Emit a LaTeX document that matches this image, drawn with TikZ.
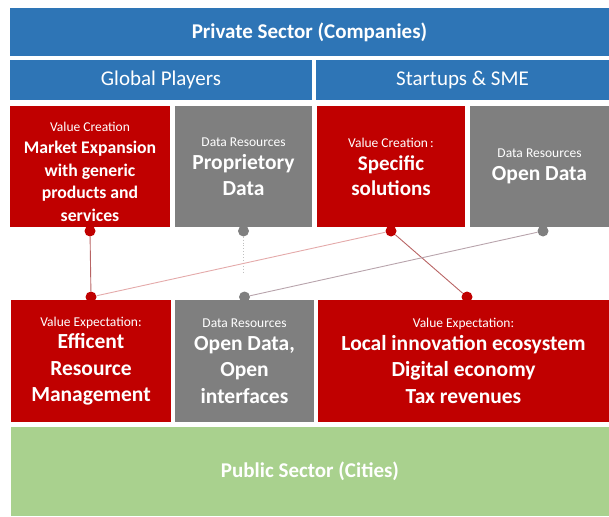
\documentclass[tikz,border=0pt]{standalone}
\usepackage{fontspec}
\setmainfont{Carlito}
\definecolor{secblue}{HTML}{2E75B6}
\definecolor{valred}{HTML}{C00000}
\definecolor{resgray}{HTML}{7F7F7F}
\definecolor{pubgreen}{HTML}{A9D18E}
\definecolor{linkred}{HTML}{B86464}
\definecolor{linkpink}{HTML}{E4AAAA}
\definecolor{linkgray}{HTML}{B8A4AC}
\newcommand\smalltxt[1]{{\fontsize{13.5}{16}\selectfont\mdseries #1}}

\begin{document}
\begin{tikzpicture}[x=1pt,y=-1pt]

\tikzset{box/.style = {shape=rectangle,inner sep=0pt,outer sep=0pt,text=white,align=center,font=\fontsize{21}{26}\selectfont}}
\tikzset{bar/.style = {box,fill=secblue}}
\tikzset{valbox/.style = {box,fill=valred,minimum height=121pt}}
\tikzset{resbox/.style = {box,fill=resgray,minimum height=121pt}}
\tikzset{rdot/.style = {shape=circle,fill=valred,inner sep=0pt,minimum size=11pt}}
\tikzset{gdot/.style = {shape=circle,fill=resgray,inner sep=0pt,minimum size=11pt}}
\tikzset{link/.style = {line width=0.9pt}}
\useasboundingbox (0,0) rectangle (609,516);
%sectors
\node[bar,minimum width=599pt,minimum height=48pt] (priv) at (309.5,32) {\bfseries Private Sector (Companies)};
\node[bar,minimum width=302pt,minimum height=40pt] (glob) at (161,80) {Global Players};
\node[bar,minimum width=293pt,minimum height=40pt] (sme) at (462.5,80) {Startups \& SME};
\node[box,fill=pubgreen,minimum width=598pt,minimum height=89pt] (pub) at (310,471.5) {\bfseries Public Sector (Cities)};
%private boxes
\node[valbox,minimum width=160pt,font=\fontsize{17.7}{22.5}\selectfont\bfseries] (vc1) at (90,166.5)
  {\smalltxt{\rule{0pt}{20pt}Value Creation}\\Market Expansion\\with generic\\products and\\services};
\node[resbox,minimum width=137pt,font=\fontsize{21.5}{26}\selectfont\bfseries] (dr1) at (243.5,166.5)
  {\smalltxt{Data Resources}\\[-3pt]Proprietory\\Data};
\node[valbox,minimum width=148pt,font=\fontsize{21}{25}\selectfont\bfseries] (vc2) at (391,166.5)
  {\smalltxt{Value Creation\,:}\\[-2pt]Specific\\solutions};
\node[resbox,minimum width=139pt,font=\fontsize{21.5}{26}\selectfont\bfseries] (dr2) at (539.5,166.5)
  {\smalltxt{Data Resources}\\[-3pt]Open Data};
%public boxes
\node[valbox,minimum width=160pt,minimum height=122pt,font=\fontsize{21.5}{26.5}\selectfont\bfseries] (ve1) at (91,361)
  {\smalltxt{Value Expectation:}\\[-4pt]Efficent\\Resource\\Management};
\node[resbox,minimum width=139pt,minimum height=122pt,font=\fontsize{21.5}{26.5}\selectfont\bfseries] (dr3) at (244.5,361)
  {\smalltxt{Data Resources}\\[-4pt]Open Data,\\Open\\interfaces};
\node[valbox,minimum width=291pt,minimum height=122pt,font=\fontsize{21.5}{26.5}\selectfont\bfseries] (ve2) at (463.5,361)
  {\smalltxt{Value Expectation:}\\[-4pt]Local innovation ecosystem\\Digital economy\\Tax revenues};
%pins
\node[rdot] (d1) at ([yshift=-4pt]vc1.south) {};
\node[gdot] (d2) at ([yshift=-4pt]dr1.south) {};
\node[rdot] (d3) at ([yshift=-4pt]vc2.south) {};
\node[gdot] (d4) at ([xshift=3.5pt,yshift=-4pt]dr2.south) {};
\node[rdot] (e1) at ([yshift=3pt]ve1.north) {};
\node[gdot] (e2) at ([yshift=3pt]dr3.north) {};
\node[rdot] (e3) at ([xshift=3.5pt,yshift=3pt]ve2.north) {};
\coordinate (c2) at (243.5,274);
%links
\draw[link,linkred] (d1) -- (e1);
\draw[link,dotted,black!25] (d2) -- (c2);
\draw[link,linkpink] (d3) -- (e1);
\draw[link,linkred] (d3) -- (e3);
\draw[link,linkgray] (d4) -- (e2);

\end{tikzpicture}
\end{document}
